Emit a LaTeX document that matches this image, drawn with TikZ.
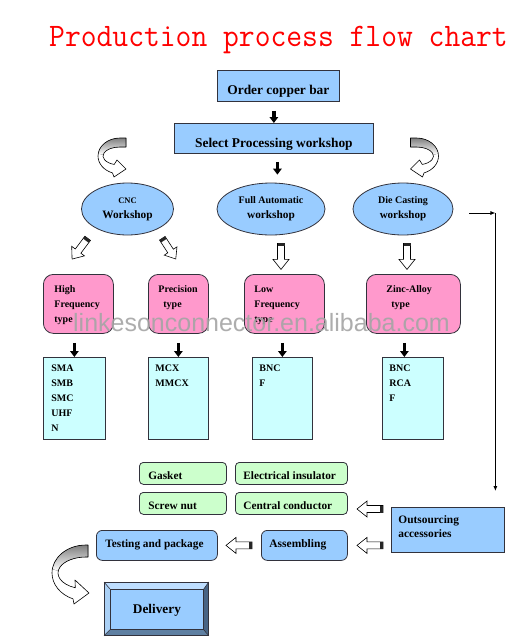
\documentclass[tikz,border=0pt]{standalone}
\usepackage{fontspec}
\setmainfont{Liberation Serif}
\newfontfamily\wmfont{Liberation Sans}
\usetikzlibrary{shapes.geometric,arrows.meta,calc}
\definecolor{lblue}{RGB}{153,204,255}
\definecolor{lpink}{RGB}{255,153,204}
\definecolor{lcyan}{RGB}{204,255,255}
\definecolor{lgreen}{RGB}{204,255,204}
\definecolor{edge}{RGB}{50,50,60}
\definecolor{bevlight}{RGB}{190,222,255}
\definecolor{bevleft}{RGB}{170,208,245}
\definecolor{bevdark}{RGB}{72,100,132}
\definecolor{bevmid}{RGB}{95,128,162}
\definecolor{shade}{RGB}{192,192,192}
\definecolor{wmgray}{RGB}{165,165,165}
\newcommand\tbox[6][\fontsize{10}{15}\selectfont]{\parbox[c][#3][t]{#2}{#1\bfseries\raggedright\leftskip=#4\relax\rule{0pt}{#5}#6}}
\newcommand\lbox[3]{\makebox[#1][l]{\hspace*{#2}#3}}
\newcommand\topcurve{%
  \fill[shade] (6,-18) -- (0,-18) arc[start angle=270,end angle=188,x radius=22,y radius=18]
    -- (188:17 and 9) arc[start angle=188,end angle=270,x radius=17,y radius=9] -- (6,-9) -- cycle;
  \draw[line width=0.6pt,line join=round] (6,-18) -- (0,-18)
    arc[start angle=270,end angle=110,x radius=22,y radius=18]
    -- (-6,21) -- (6,13) -- (-3,4) -- (110:17 and 9)
    arc[start angle=110,end angle=270,x radius=17,y radius=9] -- (6,-9) -- cycle;
}
\tikzset{
  bluebox/.style={draw=edge,fill=lblue,inner sep=0pt,line width=0.8pt,anchor=north west},
  pinkbox/.style={draw=edge,fill=lpink,inner sep=0pt,line width=0.8pt,rounded corners=10pt,anchor=north west},
  cyanbox/.style={draw=edge,fill=lcyan,inner sep=0pt,line width=0.8pt,anchor=north west},
  greenbox/.style={draw=edge,fill=lgreen,inner sep=0pt,line width=0.8pt,rounded corners=4pt,anchor=north west,
    minimum height=22pt,text height=12.6pt,text depth=0pt,font=\bfseries\fontsize{11.3}{14}\selectfont},
  ellbox/.style={ellipse,draw=edge,fill=lblue,inner sep=0pt,line width=0.8pt,align=center,
    minimum height=52pt,font=\bfseries\fontsize{10}{15}\selectfont},
  blk/.style={black,line width=3.2pt,-{Triangle[length=6pt,width=8.5pt]}},
  thinarr/.style={black,line width=0.8pt,-{Latex[length=5pt,width=4pt]}},
  hollowarrow/.pic={
    \draw[fill=white,line width=0.6pt,line join=miter] (0,-3.5) -- (16,-3.5) -- (16,-8) -- (26,0)
      -- (16,8) -- (16,3.5) -- (0,3.5) -- cycle;
    \fill[black!85] (0,-3.5) rectangle (3,3.5);
  }
}
\begin{document}
\begin{tikzpicture}[x=1pt,y=-1pt]
\fill[white] (0,0) rectangle (523,641);
\useasboundingbox (0,0) rectangle (523,641);

% title
\node[anchor=base,text=red,inner sep=0pt,font=\ttfamily\fontsize{30.7}{32}\selectfont] (title) at (278.5,46.7)
  {\scalebox{1}[1.07]{Production process flow chart}};

% top boxes
\node[bluebox,minimum width=122pt,minimum height=31pt,text height=17.6pt,text depth=0pt,
  font=\bfseries\fontsize{13.4}{16}\selectfont] (order) at (217,70) {Order copper bar};
\node[bluebox,minimum width=199pt,minimum height=30pt,text height=18pt,text depth=0pt,
  font=\bfseries\fontsize{13.4}{16}\selectfont] (select) at (174,123) {Select Processing workshop};
\draw[blk,shorten <=9pt] (order.south -| select.north) -- (select.north);

% workshops
\node[ellbox,minimum width=92pt] (cnc) at (127.5,209)
  {{\fontsize{8.5}{15}\selectfont CNC}\\{\fontsize{11.3}{15}\selectfont Workshop}};
\node[ellbox,minimum width=108pt] (full) at (271,209)
  {Full Automatic\\{\fontsize{11.3}{15}\selectfont workshop}};
\node[ellbox,minimum width=100pt] (die) at (403,209)
  {Die Casting\\{\fontsize{11}{15}\selectfont workshop}};
\draw[blk,shorten <=8pt,shorten >=8pt] ([xshift=3.5pt]select.south) -- ([xshift=3.5pt]select.south |- full.north);

% curved arrows at top
\begin{scope}[shift={(120,156)}]\topcurve\end{scope}
\begin{scope}[shift={(416.5,156)},xscale=-1]\topcurve\end{scope}

% types
\node[pinkbox] (hf) at (43,274) {\tbox{70pt}{59pt}{11pt}{18pt}{High\\Frequency\\type}};
\node[pinkbox] (prec) at (148,274) {\tbox{60pt}{59pt}{10pt}{18pt}{Precision\\\hspace*{5pt}type}};
\node[pinkbox] (low) at (244,274) {\tbox{80pt}{59pt}{10pt}{18pt}{Low\\Frequency\\type}};
\node[pinkbox] (zinc) at (366,274) {\tbox{94pt}{59pt}{20pt}{18pt}{Zinc-Alloy\\\hspace*{5pt}type}};

% hollow arrows from workshops
\pic[rotate=-126.9] at ($(cnc.south west)+(-7,10.6)$) {hollowarrow};
\pic[rotate=-57,scale=0.95] at ($(cnc.south east)+(2,10.6)$) {hollowarrow};
\pic[rotate=-90] at ($(full.south)+(10,8)$) {hollowarrow};
\pic[rotate=-90] at ($(die.south)+(4,8)$) {hollowarrow};

% product lists
\node[cyanbox] (hfc) at (43,357) {\tbox{62pt}{82pt}{8pt}{14.5pt}{SMA\\SMB\\SMC\\UHF\\N}};
\node[cyanbox] (precc) at (148,357) {\tbox{60pt}{82pt}{7pt}{14.5pt}{MCX\\MMCX}};
\node[cyanbox] (lowc) at (252,357) {\tbox{60pt}{82pt}{7pt}{14.5pt}{BNC\\F}};
\node[cyanbox] (zincc) at (382,357) {\tbox{61pt}{82pt}{7pt}{14.5pt}{BNC\\RCA\\F}};
\draw[blk,shorten <=9pt] (hf.south -| hfc.north) -- (hfc.north);
\draw[blk,shorten <=9pt] (prec.south -| precc.north) -- (precc.north);
\draw[blk,shorten <=9pt] (low.south -| lowc.north) -- (lowc.north);
\draw[blk,shorten <=9pt] ([xshift=-8.5pt]zinc.south -| zincc.north) -- ([xshift=-8.5pt]zincc.north);

% accessories
\node[greenbox,minimum width=87pt] (gasket) at (139,462) {\lbox{87pt}{9pt}{Gasket}};
\node[greenbox,minimum width=112pt] (elec) at (235,462) {\lbox{112pt}{8pt}{Electrical insulator}};
\node[greenbox,minimum width=87pt] (screw) at (139,492) {\lbox{87pt}{9pt}{Screw nut}};
\node[greenbox,minimum width=112pt] (central) at (235,492) {\lbox{112pt}{8pt}{Central conductor}};

\node[bluebox] (outs) at (391,507)
  {\tbox[\fontsize{11.4}{14.6}\selectfont]{113pt}{45pt}{7pt}{15.7pt}{Outsourcing\\accessories}};
\node[bluebox,rounded corners=6pt,minimum height=30pt,text height=10pt,text depth=6.6pt,
  font=\bfseries\fontsize{11.3}{14}\selectfont] (test) at (96,530) {\lbox{121pt}{9pt}{Testing and package}};
\node[bluebox,rounded corners=6pt,minimum height=30pt,text height=10pt,text depth=6.6pt,
  font=\bfseries\fontsize{11.5}{14}\selectfont] (assem) at (261,530) {\lbox{86pt}{8pt}{Assembling}};

% die casting to outsourcing
\coordinate (turn) at ($(die.east)+(42,4)$);
\coordinate (drop) at ($(outs.north -| turn)+(0,-16)$);
\draw[thinarr] ($(die.east)+(16,4)$) -- (turn);
\draw[thinarr] (turn) -- (drop);

% left pointing hollow arrows
\pic[rotate=180] at ($(outs.north west)+(-8,2)$) {hollowarrow};
\pic[rotate=180] at ($(outs.west |- assem.center)+(-8,0)$) {hollowarrow};
\pic[rotate=180] at ($(assem.west)+(-9,0)$) {hollowarrow};

% delivery
\node[draw=edge,fill=lblue,inner sep=0pt,line width=0.8pt,anchor=north west,minimum width=93pt,
  minimum height=40pt,text height=13.4pt,text depth=6pt,font=\bfseries\fontsize{13.3}{16}\selectfont]
  (deliv) at (110,589) {Delivery};
\coordinate (dnw) at ($(deliv.north west)+(-6,-7)$);
\coordinate (dne) at ($(deliv.north east)+(5,-7)$);
\coordinate (dsw) at ($(deliv.south west)+(-6,6)$);
\coordinate (dse) at ($(deliv.south east)+(5,6)$);
\fill[bevlight] (dnw) -- (dne) -- (deliv.north east) -- (deliv.north west) -- cycle;
\fill[bevleft] (dnw) -- (deliv.north west) -- (deliv.south west) -- (dsw) -- cycle;
\fill[bevdark] (dne) -- (dse) -- (deliv.south east) -- (deliv.north east) -- cycle;
\fill[bevmid] (dsw) -- (dse) -- (deliv.south east) -- (deliv.south west) -- cycle;
\draw[edge,line width=0.8pt] (dnw) rectangle (dse);
\draw[edge,line width=0.6pt] (dnw) -- (deliv.north west) (dne) -- (deliv.north east)
  (dsw) -- (deliv.south west) (dse) -- (deliv.south east);
\draw[edge,line width=0.8pt] (deliv.north west) rectangle (deliv.south east);

% bottom curved arrow
\begin{scope}[shift={(86,573)}]
  \fill[shade] (2,-28) -- (0,-28) arc[start angle=270,end angle=188,x radius=34,y radius=28]
    -- (188:28 and 16) arc[start angle=188,end angle=270,x radius=28,y radius=16] -- (2,-16) -- cycle;
  \draw[line width=0.6pt,line join=round] (2,-28) -- (0,-28)
    arc[start angle=270,end angle=112.5,x radius=34,y radius=28]
    -- (-12,31) -- (3,20) -- (-11,7) -- (112.5:28 and 16)
    arc[start angle=112.5,end angle=270,x radius=28,y radius=16] -- (2,-16) -- cycle;
\end{scope}

% watermark
\node[anchor=base,inner sep=0pt,text=wmgray,opacity=0.9,font=\wmfont\fontsize{25}{25}\selectfont]
  (wm) at (261.5,331) {linkesonconnector.en.alibaba.com};
\end{tikzpicture}
\end{document}
